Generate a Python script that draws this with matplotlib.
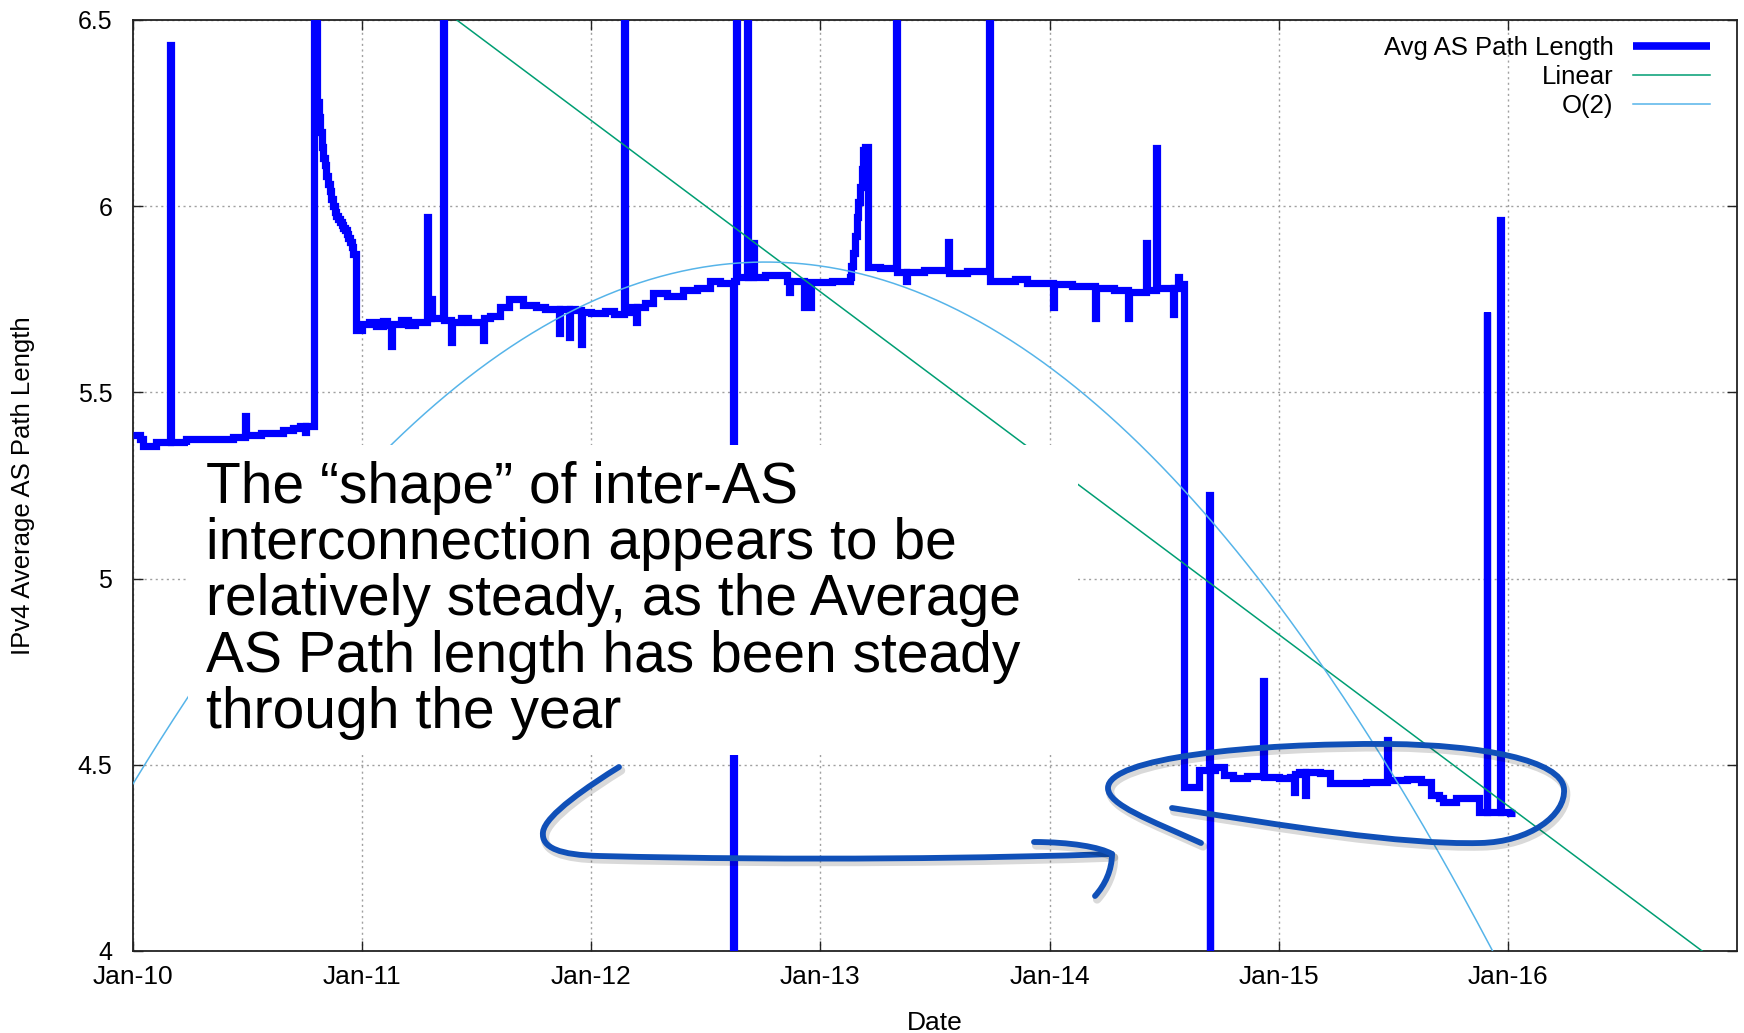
import numpy as np
import matplotlib
matplotlib.use("Agg")
import matplotlib.pyplot as plt
from matplotlib.lines import Line2D
from matplotlib.path import Path
from matplotlib.patches import PathPatch, Rectangle
import matplotlib.patheffects as pe

plt.rcParams['font.family'] = ['Liberation Sans', 'DejaVu Sans']

# ---- Average AS path length (decimal year, value), held until the next sample ----
years_2010 = [2010.000, 2010.030, 2010.045, 2010.102, 2010.163, 2010.168, 2010.233,
              2010.437, 2010.489, 2010.494, 2010.560, 2010.655, 2010.700, 2010.728,
              2010.750, 2010.755, 2010.790, 2010.805, 2010.812, 2010.818, 2010.824,
              2010.830, 2010.837, 2010.844, 2010.851, 2010.858, 2010.865, 2010.873,
              2010.880, 2010.888, 2010.895, 2010.902, 2010.910, 2010.918, 2010.925,
              2010.933, 2010.940, 2010.947, 2010.955, 2010.962]
values_2010 = [5.386, 5.375, 5.356, 5.368, 6.433, 5.368, 5.376,
               5.380, 5.437, 5.385, 5.392, 5.400, 5.405, 5.410,
               5.395, 5.410, 6.900, 6.280, 6.240, 6.200, 6.160,
               6.130, 6.110, 6.080, 6.060, 6.040, 6.020, 6.000,
               5.985, 5.975, 5.965, 5.958, 5.950, 5.942, 5.935,
               5.925, 5.915, 5.905, 5.890, 5.872]

years_2011 = [2010.972, 2011.000, 2011.030, 2011.060, 2011.090, 2011.110, 2011.126,
              2011.131, 2011.170, 2011.200, 2011.230, 2011.283, 2011.288, 2011.300,
              2011.305, 2011.352, 2011.357, 2011.388, 2011.393, 2011.430, 2011.460,
              2011.527, 2011.532, 2011.560, 2011.600, 2011.640, 2011.700, 2011.760,
              2011.800, 2011.857, 2011.862, 2011.901, 2011.906, 2011.930, 2011.954,
              2011.959]
values_2011 = [5.668, 5.685, 5.690, 5.678, 5.692, 5.680, 5.625,
               5.685, 5.695, 5.680, 5.690, 5.970, 5.700, 5.750,
               5.700, 6.900, 5.695, 5.635, 5.690, 5.700, 5.690,
               5.640, 5.700, 5.705, 5.730, 5.750, 5.735, 5.730,
               5.725, 5.660, 5.725, 5.650, 5.725, 5.720, 5.630,
               5.715]

years_2012 = [2012.000, 2012.060, 2012.100, 2012.143, 2012.147, 2012.168, 2012.195,
              2012.200, 2012.235, 2012.268, 2012.330, 2012.399, 2012.460, 2012.517,
              2012.560, 2012.617, 2012.621, 2012.632, 2012.636, 2012.680, 2012.684,
              2012.707, 2012.711, 2012.760, 2012.853, 2012.864, 2012.868, 2012.930,
              2012.960]
values_2012 = [5.713, 5.718, 5.710, 6.900, 5.715, 5.730, 5.690,
               5.730, 5.740, 5.767, 5.760, 5.775, 5.780, 5.800,
               5.795, 3.800, 5.800, 6.900, 5.810, 6.900, 5.810,
               5.900, 5.810, 5.815, 5.800, 5.770, 5.800, 5.730,
               5.797]

years_2013 = [2013.050, 2013.128, 2013.135, 2013.143, 2013.150, 2013.158, 2013.165,
              2013.172, 2013.180, 2013.187, 2013.194, 2013.201, 2013.208, 2013.260,
              2013.330, 2013.334, 2013.374, 2013.379, 2013.450, 2013.555, 2013.559,
              2013.640, 2013.737, 2013.741, 2013.850, 2013.900]
values_2013 = [5.800, 5.810, 5.840, 5.873, 5.920, 5.972, 6.010,
               6.052, 6.100, 6.151, 6.158, 6.160, 5.838, 5.835,
               6.900, 5.824, 5.800, 5.824, 5.830, 5.905, 5.820,
               5.825, 6.900, 5.800, 5.805, 5.795]

years_2014 = [2014.014, 2014.020, 2014.100, 2014.197, 2014.202, 2014.280, 2014.343,
              2014.348, 2014.420, 2014.425, 2014.464, 2014.469, 2014.537, 2014.542,
              2014.560, 2014.565, 2014.588, 2014.653, 2014.696, 2014.699, 2014.702,
              2014.720, 2014.762, 2014.800, 2014.860, 2014.931, 2014.935]
values_2014 = [5.730, 5.790, 5.785, 5.700, 5.780, 5.775, 5.700,
               5.770, 5.900, 5.775, 6.157, 5.780, 5.710, 5.780,
               5.810, 5.790, 4.441, 4.486, 5.225, 3.800, 4.486,
               4.495, 4.473, 4.465, 4.470, 4.726, 4.468]

years_2015 = [2015.000, 2015.051, 2015.067, 2015.072, 2015.087, 2015.116, 2015.121,
              2015.180, 2015.222, 2015.300, 2015.380, 2015.473, 2015.477, 2015.560,
              2015.620, 2015.665, 2015.700, 2015.719, 2015.773, 2015.873, 2015.907,
              2015.911, 2015.967, 2015.971, 2016.008, 2016.032]
values_2015 = [4.465, 4.468, 4.428, 4.475, 4.482, 4.419, 4.482,
               4.478, 4.450, 4.452, 4.455, 4.567, 4.460, 4.462,
               4.455, 4.419, 4.410, 4.401, 4.410, 4.374, 5.717,
               4.374, 5.962, 4.374, 4.370, 4.370]

# ---- Fitted trends ----
linear_years = [2010.0, 2017.0]
linear_values = [7.15, 3.93]
o2_years = [2010, 2011, 2012, 2013, 2014, 2015, 2016]
o2_values = [4.45, 5.28, 5.74, 5.84, 5.57, 4.93, 3.92]

# ---- Axis labelling ----
tick_years = [2010, 2011, 2012, 2013, 2014, 2015, 2016]
tick_labels = ["Jan-10", "Jan-11", "Jan-12", "Jan-13", "Jan-14", "Jan-15", "Jan-16"]
y_ticks = [4, 4.5, 5, 5.5, 6, 6.5]
y_tick_labels = ["4", "4.5", "5", "5.5", "6", "6.5"]

note_lines = [
    "The \u201cshape\u201d of inter-AS",
    "interconnection appears to be",
    "relatively steady, as the Average",
    "AS Path length has been steady",
    "through the year",
]

W, H = 1744, 1033
fig = plt.figure(figsize=(W / 100, H / 100), dpi=100)
ax = fig.add_axes([133 / W, (H - 951) / H, (1737 - 133) / W, (951 - 20) / H])

x_avg = np.array(years_2010 + years_2011 + years_2012 + years_2013 + years_2014 + years_2015)
y_avg = np.array(values_2010 + values_2011 + values_2012 + values_2013 + values_2014 + values_2015)

blue = "#0000ff"
green = "#009e73"
sky = "#56b4e9"

ax.plot(x_avg, y_avg, drawstyle="steps-post", color=blue, lw=5.2,
        solid_joinstyle="miter", solid_capstyle="butt", zorder=3)

ax.plot(linear_years, linear_values, color=green, lw=1.1, zorder=4)

o2_coef = np.polyfit(o2_years, o2_values, 2)
xs = np.linspace(2010, 2017, 600)
ax.plot(xs, np.polyval(o2_coef, xs), color=sky, lw=1.1, zorder=4)

ax.set_xlim(2010, 2017)
ax.set_ylim(4, 6.5)
ax.set_xticks(tick_years)
ax.set_xticklabels(tick_labels)
ax.set_yticks(y_ticks)
ax.set_yticklabels(y_tick_labels)
ax.tick_params(axis="both", direction="in", length=7.2, width=1.0,
               top=True, right=True, color="#222222")
ax.tick_params(axis="y", pad=15, labelsize=18)
ax.tick_params(axis="x", pad=10, labelsize=19)
for s in ax.spines.values():
    s.set_linewidth(1.3)
    s.set_color("#222222")
ax.grid(True, color="#a0a0a0", linestyle=(0, (1.5, 2.5)), linewidth=1.0, zorder=1)
ax.set_axisbelow(True)

ax.set_xlabel("Date", fontsize=19, va="baseline")
ax.xaxis.set_label_coords(0.5, (951 - 1030) / 931)
ax.set_ylabel("IPv4 Average AS Path Length", fontsize=18.5, va="center", ha="center")
ax.yaxis.set_label_coords((23 - 133) / 1604, 0.5)

handles = [
    Line2D([], [], color=blue, lw=5.5, solid_capstyle="butt"),
    Line2D([], [], color=green, lw=1.1),
    Line2D([], [], color=sky, lw=1.1),
]
ax.legend(handles, ["Avg AS Path Length", "Linear", "O(2)"], loc="upper right",
          bbox_to_anchor=(0.983, 0.983), frameon=False, markerfirst=False,
          fontsize=18.5, handlelength=3.0, handletextpad=0.75, labelspacing=0.2,
          borderaxespad=0, borderpad=0)


def fx(px):
    return px / W


def fy(py):
    return 1 - py / H


# Note panel over the plot area
ax.add_patch(Rectangle((fx(188), fy(755)), (1078 - 188) / W, (755 - 445) / H,
                       transform=fig.transFigure, facecolor="white", edgecolor="none",
                       zorder=10, clip_on=False))
baselines = [503, 559, 615, 672, 728]
for line, b in zip(note_lines, baselines):
    fig.text(fx(206), fy(b), line, fontsize=41, va="baseline", ha="left",
             color="black", zorder=11, family=["Liberation Sans", "DejaVu Sans"])

# Hand-drawn loop and arrow
ink = "#1050b8"
stroke_fx = [pe.SimpleLineShadow(offset=(1.5, -2.5), shadow_color="black", alpha=0.15, linewidth=6),
             pe.Normal()]


def sketch(points, codes):
    verts = [(fx(x), fy(y)) for x, y in points]
    p = PathPatch(Path(verts, codes), transform=fig.transFigure, facecolor="none",
                  edgecolor=ink, lw=4.2, capstyle="round", joinstyle="round",
                  zorder=12, clip_on=False)
    p.set_path_effects(stroke_fx)
    ax.add_patch(p)


C = Path.CURVE4
M = Path.MOVETO
loop_pts = [(1172, 808),
            (1280, 825), (1400, 845), (1480, 843),
            (1530, 842), (1566, 815), (1564, 789),
            (1562, 760), (1480, 745), (1390, 744),
            (1250, 743), (1108, 758), (1108, 788),
            (1108, 805), (1150, 820), (1201, 843)]
sketch(loop_pts, [M] + [C] * 15)

arrow_pts = [(619, 767),
             (590, 785), (545, 815), (543, 832),
             (541, 848), (560, 855), (600, 856),
             (800, 861), (1000, 858), (1112, 854)]
sketch(arrow_pts, [M] + [C] * 9)
sketch([(1034, 842), (1070, 842), (1100, 847), (1112, 854),
        (1112, 870), (1105, 885), (1095, 896)], [M] + [C] * 6)

fig.savefig("out.png", dpi=100)
